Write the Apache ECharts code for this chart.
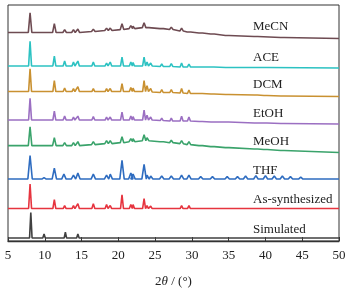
<!DOCTYPE html>
<html>
<head>
<meta charset="utf-8">
<script src="https://cdn.jsdelivr.net/npm/echarts@6/dist/echarts.min.js"></script>
<style>
  html, body { margin: 0; padding: 0; background: #fff; }
  #pxrd_chart { width: 353px; height: 293px; }
</style>
</head>
<body>
<div id="pxrd_chart"></div>
<script>
// 各样品名称（自上而下）
var names = ['MeCN', 'ACE', 'DCM', 'EtOH', 'MeOH', 'THF', 'As-synthesized', 'Simulated'];
var colors = ['#6e4b52', '#2cc2c2', '#c99131', '#9b6fc2', '#3aa36b', '#2e6cc0', '#e6343f', '#404040'];
var xTicks = [5, 10, 15, 20, 25, 30, 35, 40, 45, 50];

// 每条曲线起点/终点 [2θ, 强度(含偏移)]
var startPts = [[5, 212], [5, 178], [5, 152], [5, 123], [5, 97], [5, 63], [5, 33], [5, 3]];
var endPts = [[50, 206], [50, 176], [50, 147], [50, 119], [50, 90], [50, 63], [50, 33], [50, 3]];

// 衍射峰 [2θ, 基线, 峰顶]
var peaksMeCN = [[8.0,212,232],[11.3,212,221],[12.7,212,215],[13.9,212,215],[14.5,212,215.5],[16.6,213,215.5],
  [18.4,214,216.5],[18.9,214,216.5],[20.5,215,221],[21.7,216,219],[22.0,216,218.5],[23.5,217,222],[23.9,217,219],
  [25.9,216,218],[27.2,215,217.5],[28.6,213.5,216.5],[29.6,212.5,214.5],[31.2,211.5,213],[32.8,210.5,212],
  [34.8,209,210.5],[38.7,208,209.5],[42.3,207,208]];
var peaksACE = [[8.0,178,203],[11.3,178,188],[12.7,178,183],[13.9,178,182],[14.5,178,183],[16.6,178,182],
  [18.4,178,181],[18.9,178,182],[20.5,178,187],[21.7,178,182],[22.0,178,181.5],[23.5,178,187],[23.9,178,182],
  [24.4,178,181],[25.9,177.5,180],[27.2,177.5,180.5],[28.6,177,181],[29.6,177,180],[31.2,177,179],
  [32.8,177,178.5],[34.8,176.5,178],[38.7,176.5,178],[40.0,176.5,178]];
var peaksDCM = [[8.0,152,175],[11.3,152,163],[12.7,152,155.5],[13.9,152,155],[14.5,152,157],[16.6,152,155],
  [18.4,152,155],[18.9,152,155],[20.5,152,160],[21.7,152,156],[22.0,152,155.5],[23.5,152,163],[23.9,152,158],
  [24.4,151.5,155],[25.9,151,154],[27.2,151,154],[28.6,150.5,155],[29.6,150,153.5],[31.2,150,152],
  [32.8,149.5,151.5],[34.8,149,151],[38.7,148.5,150],[40.0,148,150],[42.3,147.5,149]];
var peaksEtOH = [[8.0,123,145],[11.3,123,132],[12.7,123,127],[13.9,123,126],[14.5,123,127],[16.6,123,126.5],
  [18.4,123,126],[18.9,123,126],[20.5,123,131],[21.7,123,127],[22.0,123,126.5],[23.5,123,133],[23.9,123,128],
  [24.4,123,126],[25.9,122.5,125],[27.2,122,125],[28.6,122,127],[29.6,122,126],[31.2,121.5,123.5],
  [32.8,121,123],[34.8,121,123],[38.7,120,121.5],[40.0,120,122],[42.3,119.5,121]];
var peaksMeOH = [[8.0,97,116],[11.3,97,105],[12.7,97,100],[13.9,97,100],[14.5,97,101],[16.6,98,101],
  [18.4,99,102],[18.9,99,102],[20.5,100,106],[21.7,101,104],[22.0,101,104],[23.5,102,108],[23.9,102,105],
  [25.9,101,103],[27.2,100,102.5],[28.6,99,102],[29.6,98,101],[31.2,97,99],[32.8,96,98],[34.8,95,97],
  [38.7,93.5,95],[40.0,93,95],[42.3,92,93.5]];
var peaksTHF = [[8.0,63,87],[9.9,63,64.5],[11.3,63,74],[12.6,63,68],[13.9,63,67],[14.5,63,69],[16.6,63,68],
  [18.4,63,67],[18.9,63,68],[20.5,63,82],[21.7,63,69],[22.0,63,68],[23.5,63,78],[23.9,63,67],[24.4,63,66],
  [25.9,63,66],[27.2,63,66],[28.6,63,67],[29.6,63,67],[31.2,63,65.5],[32.8,63,65.5],[34.8,63,65.5],
  [36.2,63,65.5],[37.3,63,66],[38.7,63,66.5],[40.0,63,66.5],[41.2,63,66],[42.3,63,66],[43.4,63,65.5],[44.8,63,65]];
var peaksAsSyn = [[8.0,33,58],[9.9,33,35],[11.3,33,42],[12.7,33,36],[13.9,33,36],[14.5,33,38],[16.6,33,38],
  [18.4,33,37],[18.9,33,36],[20.5,33,47],[21.7,33,37],[22.0,33,37],[23.5,33,43],[23.9,33,36],[24.4,33,35.5],
  [25.9,33,35],[27.2,33,35],[28.6,33,36],[29.6,33,36],[31.2,33,34.5],[32.8,33,34.5],[34.8,33,34.5],
  [37.3,33,34.5],[38.7,33,34.5],[40.0,33,35],[41.2,33,34.5],[42.3,33,34.5],[44.8,33,34.3]];
var peaksSim = [[8.1,3,29],[9.9,3,7],[11.3,3,4.5],[12.8,3,9],[14.5,3,7],[16.5,3,4],[17.6,3,3.8],[18.6,3,4],
  [20.4,3,4.5],[22.0,3,4],[23.5,3,4],[24.7,3,3.8],[25.9,3,3.6],[28.6,3,3.6]];

var peakSets = [peaksMeCN, peaksACE, peaksDCM, peaksEtOH, peaksMeOH, peaksTHF, peaksAsSyn, peaksSim];
var peakHalf = [0.24, 0.2, 0.2, 0.2, 0.24, 0.3, 0.2, 0.17];
// 标签位置（像素）
var labelY = [28, 59, 86, 115, 143, 172, 201, 231];

function build_line(idx){
    var pts = [startPts[idx]];
    var w = peakHalf[idx];
    peakSets[idx].forEach(function(p){
        pts.push([p[0] - w, p[1]], [p[0], p[2]], [p[0] + w, p[1]]);
    });
    pts.push(endPts[idx]);
    return pts;
}

var chart = echarts.init(document.getElementById('pxrd_chart'));
var serif = '"Liberation Serif", "DejaVu Serif", serif';
var series = [];
for (var i = 0; i < names.length; i++) {
    series.push({
        name: names[i],
        type: 'line',
        data: build_line(i),
        symbol: 'none',
        silent: true,
        lineStyle: { color: colors[i], width: 1.6 }
    });
}

var option = {
    animation: false,
    grid: { left: 8, right: 14, top: 5, bottom: 48, show: true, borderColor: '#333', borderWidth: 1 },
    xAxis: {
        type: 'value',
        min: 5, max: 50, interval: 5,
        axisLine: { lineStyle: { color: '#333', width: 1.3 } },
        axisTick: { inside: true, length: 4, lineStyle: { color: '#333' } },
        axisLabel: { color: '#222', fontFamily: serif, fontSize: 13, margin: 8,
            formatter: function(v){ return xTicks.indexOf(v) >= 0 ? String(v) : ''; } },
        splitLine: { show: false },
        name: '{n|2}{i|θ}{n| / (°)}',
        nameLocation: 'middle',
        nameGap: 34,
        nameTextStyle: {
            rich: {
                n: { fontFamily: serif, fontSize: 13, color: '#222' },
                i: { fontFamily: serif, fontSize: 13, color: '#222', fontStyle: 'italic' }
            }
        }
    },
    yAxis: { type: 'value', min: 0, max: 240, show: false },
    graphic: names.map(function(n, k){
        return {
            type: 'text', left: 253, top: labelY[k] - 8,
            style: { text: n, fontFamily: serif, fontSize: 13, fill: '#222' }
        };
    }),
    series: series
};
chart.setOption(option, true);
</script>
</body>
</html>
